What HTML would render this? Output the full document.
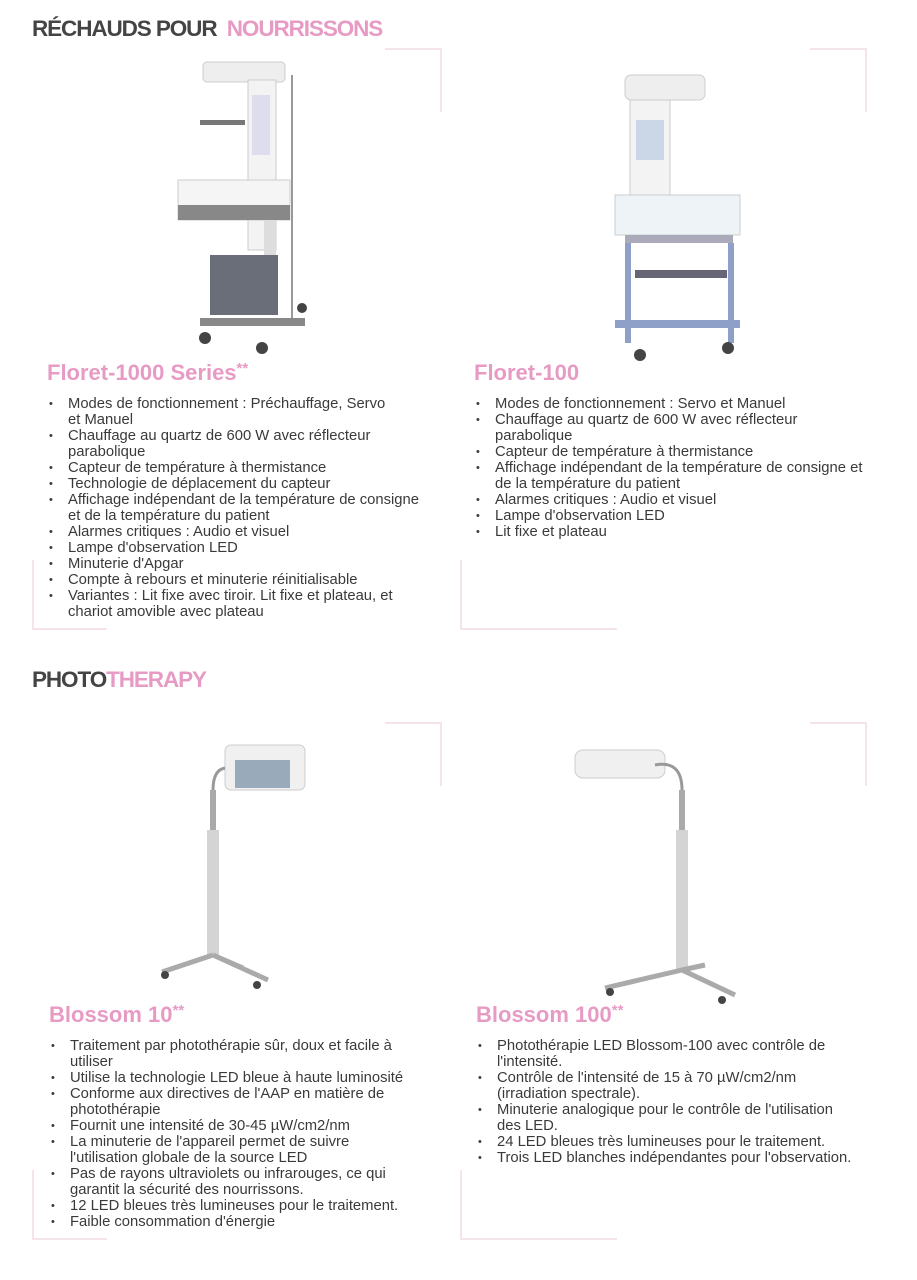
<!DOCTYPE html>
<html><head><meta charset="utf-8"><style>
body{margin:0;width:917px;height:1280px;background:#fff;position:relative;overflow:hidden;font-family:"Liberation Sans",sans-serif;color:#3a3a3a}
.a{position:absolute}
.h{font-weight:bold;font-size:22.5px;letter-spacing:-1.1px;color:#444}
.p{color:#e79bc4}
.t{font-weight:bold;font-size:22px;color:#e79bc4}
ul{position:absolute;margin:0;padding:0;list-style:none;font-size:14.8px;line-height:16px;letter-spacing:0}
li{padding-left:21px;position:relative}
li:before{content:"•";position:absolute;left:2px;font-size:11px}
.bl{position:absolute;border-color:#f6e4ec;border-style:solid;border-width:0}
</style></head><body>
<div class="a h" style="left:32px;top:16px">RÉCHAUDS POUR <span class="p">&nbsp;NOURRISSONS</span></div>
<div class="a h" style="left:32px;top:667px">PHOTO<span class="p">THERAPY</span></div>

<div class="bl" style="left:385px;top:48px;width:55px;height:62px;border-top-width:2px;border-right-width:2px"></div>
<div class="bl" style="left:810px;top:48px;width:55px;height:62px;border-top-width:2px;border-right-width:2px"></div>
<div class="bl" style="left:32px;top:560px;width:73px;height:68px;border-bottom-width:2px;border-left-width:2px"></div>
<div class="bl" style="left:460px;top:560px;width:155px;height:68px;border-bottom-width:2px;border-left-width:2px"></div>
<div class="bl" style="left:385px;top:722px;width:55px;height:62px;border-top-width:2px;border-right-width:2px"></div>
<div class="bl" style="left:810px;top:722px;width:55px;height:62px;border-top-width:2px;border-right-width:2px"></div>
<div class="bl" style="left:32px;top:1170px;width:73px;height:68px;border-bottom-width:2px;border-left-width:2px"></div>
<div class="bl" style="left:460px;top:1170px;width:155px;height:68px;border-bottom-width:2px;border-left-width:2px"></div>

<svg class="a" style="left:0;top:0" width="917" height="1280">
<rect x="203" y="62" width="82" height="20" rx="4" fill="#eee" stroke="#ccc"/>
<rect x="248" y="80" width="28" height="170" fill="#f3f3f3" stroke="#ccc"/>
<rect x="252" y="95" width="18" height="60" fill="#dde"/>
<line x1="292" y1="75" x2="292" y2="320" stroke="#999" stroke-width="2"/>
<rect x="200" y="120" width="45" height="5" fill="#777"/>
<path d="M178 180 H290 V220 H178 Z" fill="#f5f5f5" stroke="#ccc"/>
<rect x="178" y="205" width="112" height="15" fill="#888"/>
<rect x="264" y="220" width="12" height="40" fill="#ddd"/>
<rect x="210" y="255" width="68" height="60" fill="#6a6e78"/>
<rect x="200" y="318" width="105" height="8" fill="#888"/>
<circle cx="205" cy="338" r="6" fill="#444"/><circle cx="262" cy="348" r="6" fill="#444"/><circle cx="302" cy="308" r="5" fill="#444"/>
<rect x="625" y="75" width="80" height="25" rx="6" fill="#eee" stroke="#ccc"/>
<rect x="630" y="100" width="40" height="95" fill="#f3f3f3" stroke="#ccc"/>
<rect x="636" y="120" width="28" height="40" fill="#cbd6e6"/>
<rect x="615" y="195" width="125" height="40" fill="#eef3f7" stroke="#ccc"/>
<rect x="625" y="235" width="108" height="8" fill="#aab"/>
<rect x="625" y="243" width="6" height="100" fill="#8ea0c8"/><rect x="728" y="243" width="6" height="100" fill="#8ea0c8"/>
<rect x="635" y="270" width="92" height="8" fill="#667"/>
<rect x="615" y="320" width="125" height="8" fill="#8ea0c8"/>
<circle cx="640" cy="355" r="6" fill="#444"/><circle cx="728" cy="348" r="6" fill="#444"/>
<rect x="225" y="745" width="80" height="45" rx="6" fill="#f0f0f0" stroke="#ccc"/>
<rect x="235" y="760" width="55" height="28" fill="#9ab"/>
<path d="M225 768 Q213 770 213 790" stroke="#999" fill="none" stroke-width="3"/>
<rect x="210" y="790" width="6" height="40" fill="#aaa"/>
<rect x="207" y="830" width="12" height="125" fill="#d4d4d4"/>
<path d="M213 955 L162 972 M213 955 L268 980 M213 955 L243 968" stroke="#aaa" stroke-width="5"/>
<circle cx="165" cy="975" r="4" fill="#444"/><circle cx="257" cy="985" r="4" fill="#444"/>
<rect x="575" y="750" width="90" height="28" rx="8" fill="#f0f0f0" stroke="#ccc"/>
<path d="M655 765 Q682 760 682 790" stroke="#999" fill="none" stroke-width="3"/>
<rect x="679" y="790" width="6" height="40" fill="#aaa"/>
<rect x="676" y="830" width="12" height="140" fill="#d4d4d4"/>
<path d="M682 970 L605 988 M682 970 L735 995 M682 970 L705 965" stroke="#aaa" stroke-width="5"/>
<circle cx="610" cy="992" r="4" fill="#444"/><circle cx="722" cy="1000" r="4" fill="#444"/>
</svg>

<div class="a t" style="left:47px;top:360px">Floret-1000 Series<span style="font-size:15px;vertical-align:top">**</span></div>
<div class="a t" style="left:474px;top:360px">Floret-100</div>
<div class="a t" style="left:49px;top:1002px">Blossom 10<span style="font-size:15px;vertical-align:top">**</span></div>
<div class="a t" style="left:476px;top:1002px">Blossom 100<span style="font-size:15px;vertical-align:top">**</span></div>

<ul style="left:47px;top:396px;width:400px">
<li>Modes de fonctionnement : Préchauffage, Servo<br>et Manuel</li>
<li>Chauffage au quartz de 600 W avec réflecteur<br>parabolique</li>
<li>Capteur de température à thermistance</li>
<li>Technologie de déplacement du capteur</li>
<li>Affichage indépendant de la température de consigne<br>et de la température du patient</li>
<li>Alarmes critiques : Audio et visuel</li>
<li>Lampe d'observation LED</li>
<li>Minuterie d'Apgar</li>
<li>Compte à rebours et minuterie réinitialisable</li>
<li>Variantes : Lit fixe avec tiroir. Lit fixe et plateau, et<br>chariot amovible avec plateau</li>
</ul>
<ul style="left:474px;top:396px;width:440px">
<li>Modes de fonctionnement : Servo et Manuel</li>
<li>Chauffage au quartz de 600 W avec réflecteur<br>parabolique</li>
<li>Capteur de température à thermistance</li>
<li>Affichage indépendant de la température de consigne et<br>de la température du patient</li>
<li>Alarmes critiques : Audio et visuel</li>
<li>Lampe d'observation LED</li>
<li>Lit fixe et plateau</li>
</ul>
<ul style="left:49px;top:1038px;width:400px">
<li>Traitement par photothérapie sûr, doux et facile à<br>utiliser</li>
<li>Utilise la technologie LED bleue à haute luminosité</li>
<li>Conforme aux directives de l'AAP en matière de<br>photothérapie</li>
<li>Fournit une intensité de 30-45 µW/cm2/nm</li>
<li>La minuterie de l'appareil permet de suivre<br>l'utilisation globale de la source LED</li>
<li>Pas de rayons ultraviolets ou infrarouges, ce qui<br>garantit la sécurité des nourrissons.</li>
<li>12 LED bleues très lumineuses pour le traitement.</li>
<li>Faible consommation d'énergie</li>
</ul>
<ul style="left:476px;top:1038px;width:440px">
<li>Photothérapie LED Blossom-100 avec contrôle de<br>l'intensité.</li>
<li>Contrôle de l'intensité de 15 à 70 µW/cm2/nm<br>(irradiation spectrale).</li>
<li>Minuterie analogique pour le contrôle de l'utilisation<br>des LED.</li>
<li>24 LED bleues très lumineuses pour le traitement.</li>
<li>Trois LED blanches indépendantes pour l'observation.</li>
</ul>
</body></html>
